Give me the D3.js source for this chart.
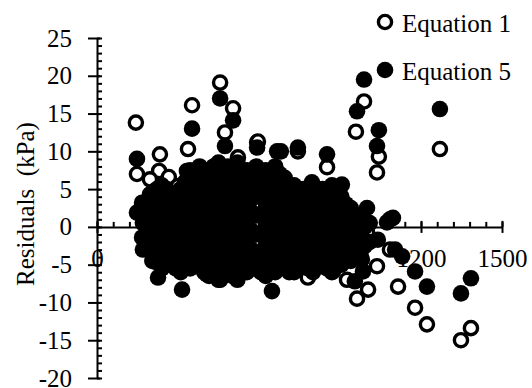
<!DOCTYPE html>
<meta charset="utf-8" />
<script src="https://d3js.org/d3.v7.min.js"></script>
<style>
  body { margin: 0; background: #fff; }
  text { font-family: "Liberation Serif", "Times New Roman", serif; }
</style>
<body>
<div id="chart"></div>
<script>
  // tick values
  var xTicks = [0, 300, 600, 900, 1200, 1500];
  var xMinor = d3.range(0, 1501, 60);
  var yTicks = [-20, -15, -10, -5, 0, 5, 10, 15, 20, 25];
  var yMinor = d3.range(-20, 26, 1);

  // series names
  var seriesNames = ["Equation 1", "Equation 5"];

  // Equation 1 residuals [x, residual]
  var eq1 = [
    [144, 13.8], [352, 16.1], [337, 10.3], [148, 7.0], [233, 9.6], [456, 19.1],
    [504, 15.7], [474, 12.5], [230, 7.4], [196, 6.3], [266, 6.6], [381, 7.2],
    [344, 7.2], [300, 5.4], [437, 7.4], [167, 3.2], [196, 4.3], [593, 11.2],
    [522, 9.2], [989, 16.6], [959, 12.6], [1044, 9.3], [1037, 7.2], [1270, 10.3],
    [852, 7.9], [596, 11.3], [744, 10.0], [796, 4.7], [907, 1.1], [1000, -0.7],
    [1085, -3.0], [1037, -5.2], [1004, -8.3], [963, -9.5], [874, -5.9], [926, -7.0],
    [781, -6.7], [1115, -7.9], [1178, -10.7], [1222, -12.9], [1348, -15.0],
    [1385, -13.4], [319, -3.4],
    [250, 2], [300, -1], [350, 4], [400, -2], [430, 2], [470, 5], [500, -3],
    [540, 1], [580, 3], [620, -1], [660, 2], [700, -2], [740, 0], [780, -3],
    [820, 2], [860, -1], [900, -2], [950, -3], [560, -4], [460, -4], [380, -4],
    [280, -3], [220, 1], [400, 6], [520, 7], [610, 6], [690, 4], [760, 3], [850, 3]
  ];

  // Equation 5 residuals [x, residual]
  var eq5 = [
    [148, 9.0], [148, 1.9], [352, 13.0], [456, 17.0], [504, 14.1], [474, 10.7],
    [593, 10.5], [667, 10.0], [333, 7.4], [989, 19.5], [963, 15.3], [1044, 12.8],
    [1037, 10.7], [1270, 15.6], [852, 9.6], [681, 10.0], [744, 10.5], [796, 5.9],
    [907, 5.6], [1000, 2.5], [1096, 1.2], [1074, 0.6], [1085, 1.0], [1040, -1.7],
    [1104, -3.0], [1130, -3.9], [1178, -5.9], [1222, -7.9], [1348, -8.8],
    [1385, -6.8], [981, -4.3], [985, -5.9], [955, -7.2], [648, -8.5], [456, -7.0],
    [315, -8.3], [741, -5.6], [167, -1.4], [215, -4.6], [226, -6.7], [407, -6.3],
    [170, 3], [170, 0.5], [170, -1.5], [170, -3],
    [187, 2], [187, -0.5], [187, -2.5],
    [205, 4.5], [205, 2], [205, -0.5], [205, -2.5], [205, -4.5],
    [222, 5], [222, 3], [222, 0.5], [222, -2], [222, -4],
    [240, 5.5], [240, 3.5], [240, 1], [240, -1.5], [240, -4], [240, -5.5],
    [257, 5], [257, 2.5], [257, 0], [257, -2.5], [257, -4.5],
    [275, 4.5], [275, 2], [275, -0.5], [275, -3], [275, -5],
    [292, 4], [292, 1], [292, -1.5], [292, -4], [292, -5.5],
    [310, 5], [310, 3], [310, 0.5], [310, -2], [310, -4.5], [310, -6],
    [327, 6], [327, 4], [327, 1.5], [327, -1], [327, -3], [327, -5],
    [345, 7.5], [345, 5.5], [345, 3], [345, 1], [345, -1.5], [345, -3.5], [345, -5.5],
    [362, 7], [362, 4.5], [362, 2], [362, 0], [362, -2.5], [362, -4.5],
    [380, 8], [380, 6], [380, 4], [380, 1.5], [380, -0.5], [380, -3], [380, -5],
    [397, 7], [397, 5], [397, 2.5], [397, 0], [397, -2], [397, -4], [397, -6],
    [415, 7.5], [415, 5], [415, 3], [415, 0.5], [415, -2], [415, -4.5], [415, -6.5],
    [432, 8], [432, 6], [432, 4], [432, 1.5], [432, -1], [432, -3.5], [432, -5.5],
    [450, 8.5], [450, 6.5], [450, 4], [450, 2], [450, -0.5], [450, -3], [450, -5.5], [450, -7],
    [467, 7.5], [467, 5], [467, 3], [467, 0.5], [467, -2], [467, -4.5], [467, -6.5],
    [485, 8], [485, 5.5], [485, 3.5], [485, 1], [485, -1.5], [485, -4], [485, -6],
    [502, 7], [502, 5], [502, 2.5], [502, 0], [502, -2.5], [502, -5], [502, -6.5],
    [520, 8.5], [520, 6.5], [520, 4.5], [520, 2], [520, -0.5], [520, -3], [520, -5.5], [520, -7],
    [537, 7.5], [537, 5.5], [537, 3.5], [537, 1], [537, -1.5], [537, -4], [537, -6],
    [555, 7.5], [555, 5], [555, 3], [555, 0.5], [555, -2], [555, -4.5], [555, -6],
    [572, 7], [572, 4.5], [572, 2], [572, -0.5], [572, -3], [572, -5.5],
    [590, 8], [590, 6], [590, 4], [590, 1.5], [590, -1], [590, -3.5], [590, -5.5],
    [607, 6.5], [607, 4], [607, 1.5], [607, -1], [607, -3.5], [607, -6],
    [625, 7.5], [625, 5], [625, 2.5], [625, 0], [625, -2.5], [625, -5], [625, -6.5],
    [642, 7], [642, 4.5], [642, 2], [642, -0.5], [642, -3], [642, -5.5],
    [660, 8], [660, 6], [660, 3.5], [660, 1], [660, -1.5], [660, -4], [660, -6],
    [677, 7], [677, 5], [677, 2.5], [677, 0], [677, -2.5], [677, -5],
    [695, 6.5], [695, 4.5], [695, 2], [695, -0.5], [695, -3], [695, -5.5],
    [712, 5.5], [712, 3.5], [712, 1], [712, -1.5], [712, -4], [712, -6],
    [730, 5.5], [730, 3], [730, 1], [730, -1.5], [730, -4], [730, -6],
    [747, 4], [747, 1.5], [747, -0.5], [747, -3], [747, -5],
    [765, 5], [765, 2.5], [765, 0], [765, -2.5], [765, -5],
    [782, 4], [782, 1.5], [782, -1], [782, -3.5], [782, -5.5],
    [800, 5.5], [800, 3.5], [800, 1], [800, -1.5], [800, -4], [800, -6],
    [817, 4.5], [817, 2], [817, -0.5], [817, -3], [817, -5],
    [835, 5], [835, 2.5], [835, 0], [835, -2.5], [835, -5],
    [852, 4], [852, 1.5], [852, -1], [852, -3.5], [852, -5.5],
    [870, 5.5], [870, 3], [870, 0.5], [870, -2], [870, -4.5], [870, -6],
    [887, 4], [887, 2], [887, -0.5], [887, -3], [887, -5],
    [905, 4], [905, 1.5], [905, -1], [905, -3.5], [905, -5],
    [922, 3], [922, 0.5], [922, -2], [922, -4],
    [940, 2.5], [940, 0], [940, -2.5], [940, -4.5],
    [957, 1.5], [957, -1], [957, -3],
    [975, 1], [975, -1.5], [975, -3.5],
    [992, 0], [992, -2.5],
    [1010, 0.5], [1010, -2]
  ];

  var width = 532, height = 388;

  var svg = d3.select("#chart").append("svg")
    .attr("width", width)
    .attr("height", height);

  var x = d3.scaleLinear().domain([0, 1500]).range([97, 502]);
  var y = d3.scaleLinear().domain([-20, 25]).range([378, 38]);

  // plain hyphen for negatives, no thousands separator
  var fmt = function(d) { return d < 0 ? "-" + Math.abs(d) : String(d); };

  // y axis
  var yAxis = svg.append("g")
    .attr("transform", "translate(" + x(0) + ",0)")
    .call(d3.axisLeft(y).tickValues(yTicks).tickFormat(fmt)
      .tickSize(9).tickSizeOuter(0).tickPadding(16));
  yAxis.selectAll(".tick line").attr("x1", 3);

  svg.append("g")
    .attr("transform", "translate(" + x(0) + ",0)")
    .call(d3.axisRight(y).tickValues(yMinor).tickSize(5).tickFormat(""))
    .select(".domain").remove();

  // x axis crossing at zero
  var xAxis = svg.append("g")
    .attr("transform", "translate(0," + y(0) + ")")
    .call(d3.axisBottom(x).tickValues(xTicks).tickFormat(fmt)
      .tickSize(6).tickSizeOuter(0).tickPadding(16));
  xAxis.selectAll(".tick line").attr("y1", -6);

  svg.append("g")
    .attr("transform", "translate(0," + y(0) + ")")
    .call(d3.axisTop(x).tickValues(xMinor).tickSize(5).tickFormat(""))
    .select(".domain").remove();

  svg.selectAll(".domain, .tick line")
    .attr("stroke", "#000")
    .attr("stroke-width", 2);

  svg.selectAll(".tick text")
    .attr("fill", "#000")
    .style("font-family", "'Liberation Serif', 'Times New Roman', serif")
    .style("font-size", "25px");

  // axis title
  svg.append("text")
    .attr("transform", "translate(25," + 204 + ") rotate(-90)")
    .attr("text-anchor", "middle")
    .attr("dy", "0.35em")
    .style("font-size", "25px")
    .style("white-space", "pre")
    .text("Residuals  (kPa)");

  // Equation 1: open markers
  svg.append("g").selectAll("circle")
    .data(eq1)
    .enter().append("circle")
    .attr("cx", function(d) { return x(d[0]); })
    .attr("cy", function(d) { return y(d[1]); })
    .attr("r", 6.6)
    .attr("fill", "#fff")
    .attr("stroke", "#000")
    .attr("stroke-width", 3.4);

  // Equation 5: filled markers
  svg.append("g").selectAll("circle")
    .data(eq5)
    .enter().append("circle")
    .attr("cx", function(d) { return x(d[0]); })
    .attr("cy", function(d) { return y(d[1]); })
    .attr("r", 8.3)
    .attr("fill", "#000");

  // legend
  var legend = svg.append("g").selectAll("g")
    .data(seriesNames)
    .enter().append("g")
    .attr("transform", function(d, i) { return "translate(385," + (22 + i * 48) + ")"; });

  legend.append("circle")
    .attr("r", function(d, i) { return i === 0 ? 6.6 : 8.3; })
    .attr("fill", function(d, i) { return i === 0 ? "#fff" : "#000"; })
    .attr("stroke", "#000")
    .attr("stroke-width", function(d, i) { return i === 0 ? 3.4 : 0; });

  legend.append("text")
    .attr("x", 17)
    .attr("y", 9.5)
    .style("font-size", "25px")
    .text(function(d) { return d; });
</script>
</body>
